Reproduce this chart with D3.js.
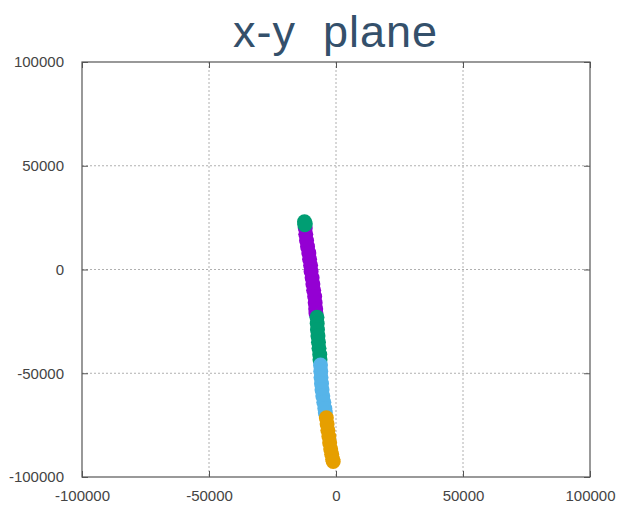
<!DOCTYPE html>
<html>
<head>
<meta charset="utf-8">
<style>
  body { margin: 0; background: #fff; }
  svg text { font-family: "Liberation Sans", Arial, sans-serif; }
  .grid line { stroke: #b0b0b0; stroke-width: 1px; stroke-dasharray: 2,2; }
</style>
</head>
<body>
<div id="chart"></div>
<script src="https://d3js.org/d3.v7.min.js"></script>
<script>
// tick values on both axes
var xTicks = [-100000, -50000, 0, 50000, 100000];
var yTicks = [-100000, -50000, 0, 50000, 100000];

// trajectory pieces as [x, y]
var purplePts = [
  [-12100, 20000], [-11900, 17000], [-11600, 14000], [-11200, 11000],
  [-10700, 8000], [-10400, 5000], [-10000, 2000], [-9800, -1000],
  [-9400, -4000], [-9100, -7000], [-8800, -10000], [-8400, -13000],
  [-8200, -16000], [-8000, -19000], [-7900, -21000]
];
var greenPts = [
  [-12400, 23000], [-12100, 22000], [-12300, 21600],
  [-7500, -23000], [-7400, -26000], [-7300, -29000], [-7100, -32000],
  [-6900, -35000], [-6700, -38000], [-6400, -41000], [-6300, -43500]
];
var bluePts = [
  [-6100, -46000], [-6000, -49000], [-5900, -52000], [-5700, -55000],
  [-5500, -58000], [-5200, -61000], [-4800, -64000], [-4400, -67000],
  [-4200, -69000]
];
var orangePts = [
  [-3800, -71500], [-3500, -74500], [-3200, -77500], [-2800, -80500],
  [-2500, -83500], [-2100, -86500], [-1700, -89000], [-1300, -91500],
  [-1100, -92500]
];

var series = [
  { pts: purplePts, color: "#9400d3" },
  { pts: greenPts,  color: "#009e73" },
  { pts: bluePts,   color: "#56b4e9" },
  { pts: orangePts, color: "#e69f00" }
];

var W = 621, H = 505;
var pLeft = 82, pRight = 590, pTop = 62, pBottom = 477;

var svg = d3.select("#chart").append("svg")
    .attr("width", W)
    .attr("height", H);

var x = d3.scaleLinear().domain([-100000, 100000]).range([pLeft, pRight]);
var y = d3.scaleLinear().domain([-100000, 100000]).range([pBottom, pTop]);

var fmt = function (d) { return String(d); };

// title
svg.append("text")
    .attr("x", 335)
    .attr("y", 47)
    .attr("text-anchor", "middle")
    .attr("textLength", 204)
    .attr("lengthAdjust", "spacing")
    .style("font-size", "45px")
    .style("fill", "#34506b")
    .style("white-space", "pre")
    .text("x-y  plane");

// grid
var grid = svg.append("g").attr("class", "grid");
grid.selectAll(".gx")
  .data(xTicks.slice(1, -1))
  .enter().append("line")
    .attr("x1", function (d) { return x(d); })
    .attr("x2", function (d) { return x(d); })
    .attr("y1", pTop)
    .attr("y2", pBottom);
grid.selectAll(".gy")
  .data(yTicks.slice(1, -1))
  .enter().append("line")
    .attr("y1", function (d) { return y(d); })
    .attr("y2", function (d) { return y(d); })
    .attr("x1", pLeft)
    .attr("x2", pRight);

// axes (gnuplot style: inward ticks, mirrored)
var xAxis = d3.axisBottom(x).tickValues(xTicks).tickFormat(fmt).tickSize(-6).tickPadding(13).tickSizeOuter(0);
var yAxis = d3.axisLeft(y).tickValues(yTicks).tickFormat(fmt).tickSize(-6).tickPadding(18).tickSizeOuter(0);

var gx = svg.append("g").attr("transform", "translate(0," + pBottom + ")").call(xAxis);
var gy = svg.append("g").attr("transform", "translate(" + pLeft + ",0)").call(yAxis);
var gx2 = svg.append("g").attr("transform", "translate(0," + pTop + ")")
    .call(d3.axisTop(x).tickValues(xTicks).tickSize(-6).tickSizeOuter(0).tickFormat(""));
var gy2 = svg.append("g").attr("transform", "translate(" + pRight + ",0)")
    .call(d3.axisRight(y).tickValues(yTicks).tickSize(-6).tickSizeOuter(0).tickFormat(""));

[gx, gy, gx2, gy2].forEach(function (g) {
  g.select(".domain").remove();
  g.selectAll(".tick line").attr("stroke", "#555");
  g.selectAll(".tick text").style("font-size", "15px").style("fill", "#444")
    .style("font-family", "'Liberation Sans', Arial, sans-serif");
});

// frame
svg.append("rect")
    .attr("x", pLeft)
    .attr("y", pTop)
    .attr("width", pRight - pLeft)
    .attr("height", pBottom - pTop)
    .attr("fill", "none")
    .attr("stroke", "#555")
    .attr("stroke-width", 1.2);

// points
var plot = svg.append("g");
series.forEach(function (s) {
  plot.append("g").selectAll("circle")
    .data(s.pts)
    .enter().append("circle")
      .attr("cx", function (d) { return x(d[0]); })
      .attr("cy", function (d) { return y(d[1]); })
      .attr("r", 7.5)
      .attr("fill", s.color);
});
</script>
</body>
</html>
